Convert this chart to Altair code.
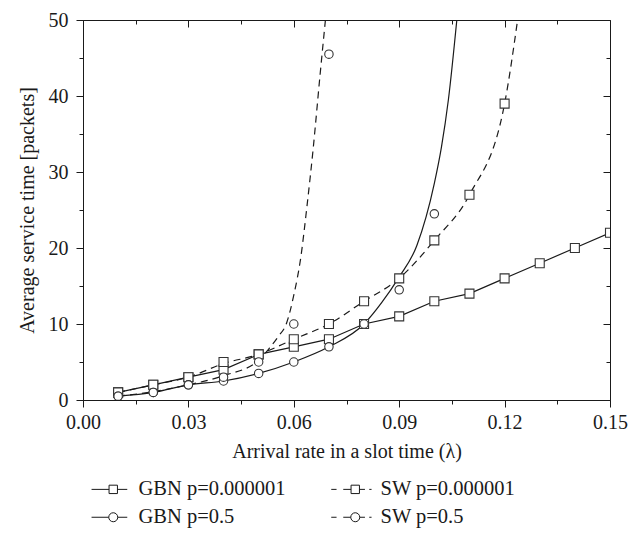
import altair as alt
import pandas as pd

# ---------------- data ----------------
# simulation markers
lam_gbn_low = [0.01, 0.02, 0.03, 0.04, 0.05, 0.06, 0.07, 0.08, 0.09, 0.10, 0.11, 0.12, 0.13, 0.14, 0.15]
gbn_low = [1, 2, 3, 4, 6, 7, 8, 10, 11, 13, 14, 16, 18, 20, 22]

lam_gbn_half = [0.01, 0.02, 0.03, 0.04, 0.05, 0.06, 0.07, 0.08, 0.09, 0.10]
gbn_half = [0.5, 1, 2, 2.5, 3.5, 5, 7, 10, 14.5, 24.5]

lam_sw_low = [0.01, 0.02, 0.03, 0.04, 0.05, 0.06, 0.07, 0.08, 0.09, 0.10, 0.11, 0.12]
sw_low = [1, 2, 3, 5, 6, 8, 10, 13, 16, 21, 27, 39]

lam_sw_half = [0.01, 0.02, 0.03, 0.04, 0.05, 0.06, 0.07]
sw_half = [0.5, 1, 2, 3, 5, 10, 45.5]

# analytical curves
curve_gbn_half_x = [0.01, 0.02, 0.03, 0.04, 0.05, 0.06, 0.07, 0.08, 0.085, 0.09, 0.095, 0.10, 0.102, 0.104, 0.1064]
curve_gbn_half_y = [0.5, 1, 2, 2.5, 3.5, 5, 7, 10, 12.8, 16.2, 20.3, 28.5, 33.2, 39.5, 50]

curve_sw_low_x = [0.01, 0.02, 0.03, 0.04, 0.05, 0.06, 0.07, 0.08, 0.09, 0.10, 0.11, 0.12, 0.1237]
curve_sw_low_y = [1, 2, 3, 4.8, 6, 8, 10, 13, 16, 21, 27, 39, 50]

curve_sw_half_x = [0.01, 0.02, 0.03, 0.04, 0.05, 0.053, 0.0555, 0.058, 0.06, 0.062, 0.0637, 0.0655, 0.0675, 0.069]
curve_sw_half_y = [0.5, 1.1, 2.0, 3.2, 5.2, 6.8, 8.3, 10.2, 13.8, 18.8, 25.3, 33, 42.9, 50]

# legend order (filled column by column)
series_names = ["GBN p=0.000001", "GBN p=0.5", "SW p=0.000001", "SW p=0.5"]

x_major = [0.0, 0.03, 0.06, 0.09, 0.12, 0.15]
x_minor = [0.015, 0.045, 0.075, 0.105, 0.135]
y_major = [0, 10, 20, 30, 40, 50]
y_minor = [5, 15, 25, 35, 45]

# ---------------- styling ----------------
FONT = "Liberation Serif"
INK = "#1a1a1a"

# legend symbols: line + marker drawn as custom paths
SQ = "M-0.84,-0.84H0.84V0.84H-0.84Z"
CI = "M-0.9,0A0.9,0.9,0,1,0,0.9,0A0.9,0.9,0,1,0,-0.9,0Z"
SOLID_SQ = "M-4.34,0H-0.84M0.84,0H2.8" + SQ
SOLID_CI = "M-4.34,0H-0.9M0.9,0H2.8" + CI
DASH_SQ = "M-4.8,0H-3.74M-2.4,0H-0.84M0.84,0H1.94M2.8,0H3.26" + SQ
DASH_CI = "M-4.8,0H-3.74M-2.4,0H-0.9M0.9,0H1.94M2.8,0H3.26" + CI
legend_paths = [SOLID_SQ, SOLID_CI, DASH_SQ, DASH_CI]

XS = alt.Scale(domain=[0, 0.15], nice=False, zero=False)
YS = alt.Scale(domain=[0, 50], nice=False, zero=False)


def tick_axis(orient, values, size, offset=0):
    return alt.Axis(orient=orient, values=values, tickSize=size, offset=offset,
                    labels=False, title="", domain=False, grid=False,
                    tickColor=INK, tickWidth=1)


x_main = alt.Axis(orient="bottom", values=x_major, format=".2f", tickSize=7,
                  tickColor=INK, tickWidth=1, domain=True, domainColor=INK,
                  grid=False, labelFont=FONT, labelFontSize=20, labelColor=INK,
                  labelPadding=5, labelFlush=False, labelOverlap=False,
                  title="Arrival rate in a slot time (λ)", titleFont=FONT,
                  titleFontSize=20, titleFontWeight="normal", titleColor=INK,
                  titlePadding=9)
y_main = alt.Axis(orient="left", values=y_major, format="d", tickSize=7,
                  tickColor=INK, tickWidth=1, domain=True, domainColor=INK,
                  grid=False, labelFont=FONT, labelFontSize=20, labelColor=INK,
                  labelPadding=8, labelFlush=False, labelOverlap=False,
                  title="Average service time [packets]", titleFont=FONT,
                  titleFontSize=20, titleFontWeight="normal", titleColor=INK,
                  titlePadding=11)


def xy(xaxis, yaxis):
    return dict(x=alt.X("x:Q", scale=XS, axis=xaxis),
                y=alt.Y("y:Q", scale=YS, axis=yaxis))


df_gbn_low = pd.DataFrame({"x": lam_gbn_low, "y": gbn_low})
df_gbn_half_c = pd.DataFrame({"x": curve_gbn_half_x, "y": curve_gbn_half_y})
df_sw_low_c = pd.DataFrame({"x": curve_sw_low_x, "y": curve_sw_low_y})
df_sw_half_c = pd.DataFrame({"x": curve_sw_half_x, "y": curve_sw_half_y})

df_squares = pd.DataFrame({"x": lam_gbn_low + lam_sw_low, "y": gbn_low + sw_low})
df_circles = pd.DataFrame({"x": lam_gbn_half + lam_sw_half, "y": gbn_half + sw_half})
df_legend = pd.DataFrame({"series": series_names, "x": [0.01] * 4, "y": [1] * 4})

line_gbn_low = alt.Chart(df_gbn_low).mark_line(color=INK, strokeWidth=1.2, clip=True).encode(
    **xy(x_main, y_main))
line_gbn_half = alt.Chart(df_gbn_half_c).mark_line(color=INK, strokeWidth=1.2, clip=True,
                                                   interpolate="monotone").encode(
    **xy(tick_axis("bottom", x_minor, 4), tick_axis("left", y_minor, 4)))
line_sw_low = alt.Chart(df_sw_low_c).mark_line(color=INK, strokeWidth=1.2, clip=True,
                                               strokeDash=[7, 5], interpolate="monotone").encode(
    **xy(tick_axis("top", x_major, 7, -7), tick_axis("right", y_major, 7, -7)))
line_sw_half = alt.Chart(df_sw_half_c).mark_line(color=INK, strokeWidth=1.2, clip=True,
                                                 strokeDash=[7, 5], interpolate="monotone").encode(
    **xy(tick_axis("top", x_minor, 4, -4), tick_axis("right", y_minor, 4, -4)))

squares = alt.Chart(df_squares).mark_point(shape="square", size=81, fill="white", stroke="#333",
                                           strokeWidth=1.1, opacity=1, filled=True, clip=True).encode(
    x=alt.X("x:Q", scale=XS, axis=None), y=alt.Y("y:Q", scale=YS, axis=None))
circles = alt.Chart(df_circles).mark_point(shape="circle", size=71, fill="white", stroke="#333",
                                           strokeWidth=1.1, opacity=1, filled=True, clip=True).encode(
    x=alt.X("x:Q", scale=XS, axis=None), y=alt.Y("y:Q", scale=YS, axis=None))

legend_layer = alt.Chart(df_legend).mark_point(size=100, opacity=0, filled=False, color=INK,
                                               strokeWidth=1).encode(
    x=alt.X("x:Q", scale=XS, axis=None),
    y=alt.Y("y:Q", scale=YS, axis=None),
    shape=alt.Shape("series:N",
                    scale=alt.Scale(domain=series_names, range=legend_paths),
                    sort=series_names,
                    legend=alt.Legend(orient="none", legendX=20, legendY=459, columns=2,
                                      title=None, padding=0, symbolSize=100,
                                      symbolStrokeWidth=1, symbolStrokeColor=INK,
                                      symbolFillColor="white", symbolOpacity=1,
                                      symbolOffset=0, labelOffset=15,
                                      columnPadding=43, rowPadding=7,
                                      labelFont=FONT, labelFontSize=20.5, labelColor=INK,
                                      labelLimit=400)))

chart = alt.layer(line_gbn_low, line_gbn_half, line_sw_low, line_sw_half,
                  squares, circles, legend_layer).resolve_axis(
    x="independent", y="independent"
).properties(
    width=527, height=380,
    padding={"left": 75, "top": 12, "right": 20, "bottom": 135},
    autosize=alt.AutoSizeParams(type="none"),
    background="white",
).configure_view(stroke=INK, strokeWidth=1)

chart.save("out.html", embed_options={"renderer": "svg", "actions": False})
